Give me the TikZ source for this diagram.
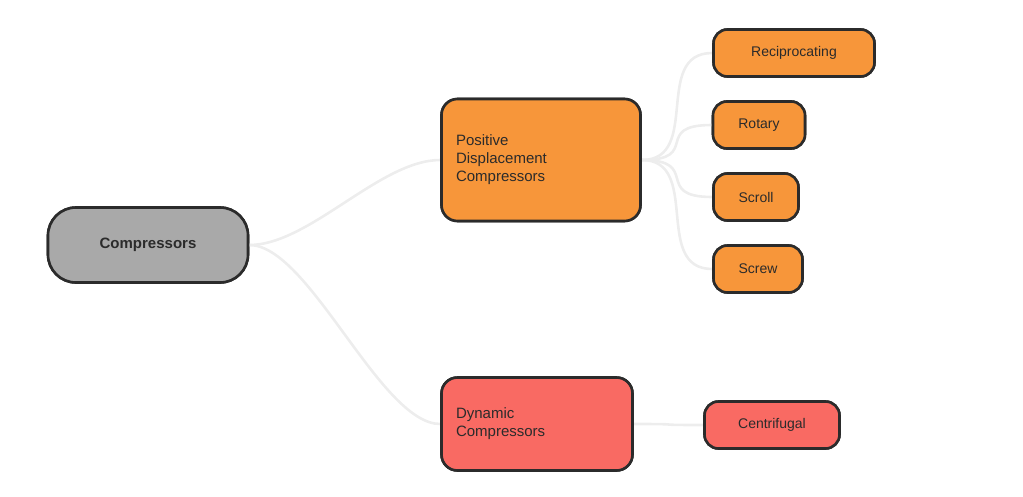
\documentclass[tikz,border=0pt]{standalone}
\usepackage{fontspec}
\setmainfont{Liberation Sans}
\begin{document}
\begin{tikzpicture}[x=1pt,y=-1pt,
  box/.style={draw=black!83,line width=2.6pt,rounded corners=16pt,inner sep=0pt,font=\fontsize{15}{18}\selectfont,text=black!83},
  leaf/.style={box,rounded corners=14pt,minimum height=47pt,font=\fontsize{14}{16}\selectfont},
  link/.style={draw=black!7,line width=2.6pt}]
\definecolor{pdorange}{HTML}{F7963A}
\definecolor{dynred}{HTML}{F96A63}
\definecolor{rootgray}{HTML}{A9A9A9}
\useasboundingbox (0,0) rectangle (1023,496);
% Nodes
\node[box,fill=rootgray,minimum width=200pt,minimum height=75pt,rounded corners=28pt,font=\bfseries\fontsize{15}{18}\selectfont] (root) at (148,245) {Compressors};
\node[box,fill=pdorange,minimum width=199pt,minimum height=122pt,text width=170pt,align=left] (pd) at (541,160) {Positive\\Displacement\\Compressors};
\node[box,fill=pdorange!0!dynred,minimum width=191pt,minimum height=93pt,text width=162pt,align=left] (dyn) at (537,424) {Dynamic\\Compressors};
\node[leaf,fill=pdorange,minimum width=161pt] (recip) at (794,53) {Reciprocating};
\node[leaf,fill=pdorange,minimum width=92pt] (rotary) at (759,125) {Rotary};
\node[leaf,fill=pdorange,minimum width=85pt] (scroll) at (756,197) {Scroll};
\node[leaf,fill=pdorange,minimum width=89pt] (screw) at (758,269) {Screw};
\node[leaf,fill=dynred,minimum width=135pt] (centri) at (772,425) {Centrifugal};
% links
\begin{scope}[on background layer/.style={}]
\foreach \a/\b in {root/pd,root/dyn,pd/recip,pd/rotary,pd/scroll,pd/screw,dyn/centri}
  \path[link] (\a.east) .. controls ([xshift=60pt]\a.east) and ([xshift=-60pt]\b.west) .. (\b.west);
\end{scope}
% redraw nodes on top
\node[box,fill=rootgray,minimum width=200pt,minimum height=75pt,rounded corners=28pt,font=\bfseries\fontsize{15}{18}\selectfont] at (148,245) {Compressors};
\node[box,fill=pdorange,minimum width=199pt,minimum height=122pt,text width=170pt,align=left] at (541,160) {Positive\\Displacement\\Compressors};
\node[box,fill=dynred,minimum width=191pt,minimum height=93pt,text width=162pt,align=left] at (537,424) {Dynamic\\Compressors};
\node[leaf,fill=pdorange,minimum width=161pt] at (794,53) {Reciprocating};
\node[leaf,fill=pdorange,minimum width=92pt] at (759,125) {Rotary};
\node[leaf,fill=pdorange,minimum width=85pt] at (756,197) {Scroll};
\node[leaf,fill=pdorange,minimum width=89pt] at (758,269) {Screw};
\node[leaf,fill=dynred,minimum width=135pt] at (772,425) {Centrifugal};
\end{tikzpicture}
\end{document}
